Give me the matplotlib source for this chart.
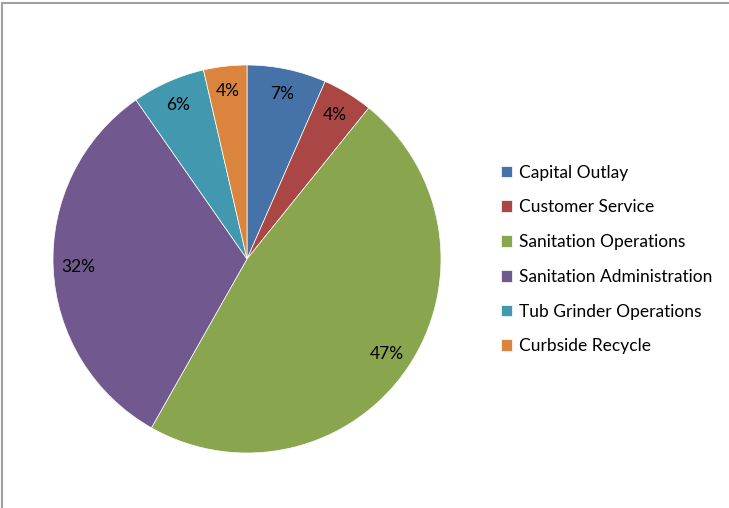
import matplotlib.pyplot as plt
from matplotlib.patches import Rectangle

# Budget shares by department (percent)
departments = ["Capital Outlay", "Customer Service", "Sanitation Operations",
               "Sanitation Administration", "Tub Grinder Operations", "Curbside Recycle"]
shares = [6.6, 4.2, 47.4, 32.1, 6.1, 3.6]
colors = ["#4572A7", "#AA4643", "#89A54E", "#71588F", "#4198AF", "#DB843D"]

plt.rcParams['font.family'] = ['Lato', 'DejaVu Sans']

W, H = 729, 508
fig = plt.figure(figsize=(W / 100, H / 100), dpi=100)

# chart area border (top and left edges visible)
fig.patches.append(Rectangle((1.5 / W, -0.1), 1.2, 1 - 3.5 / H + 0.1,
                             transform=fig.transFigure, fill=False,
                             edgecolor="#A0A0A0", linewidth=1.5))

cx, cy, r = 247, 259, 194
ax = fig.add_axes([(cx - r) / W, (H - cy - r) / H, 2 * r / W, 2 * r / H])
wedges, texts, autotexts = ax.pie(
    shares, colors=colors, startangle=90, counterclock=False,
    autopct=lambda p: f"{p:.0f}%", pctdistance=0.87,
    wedgeprops=dict(edgecolor="white", linewidth=0.5),
    textprops=dict(fontsize=12.5, color="black"))
ax.set_xlim(-1, 1)
ax.set_ylim(-1, 1)
ax.set_aspect("equal")

fig.legend(wedges, departments, loc="upper left",
           bbox_to_anchor=(485 / W, 1 - 149 / H), frameon=False,
           fontsize=12.5, handlelength=0.65, handleheight=0.65,
           handletextpad=0.4, labelspacing=1.08)

fig.savefig("out.png", dpi=100)
